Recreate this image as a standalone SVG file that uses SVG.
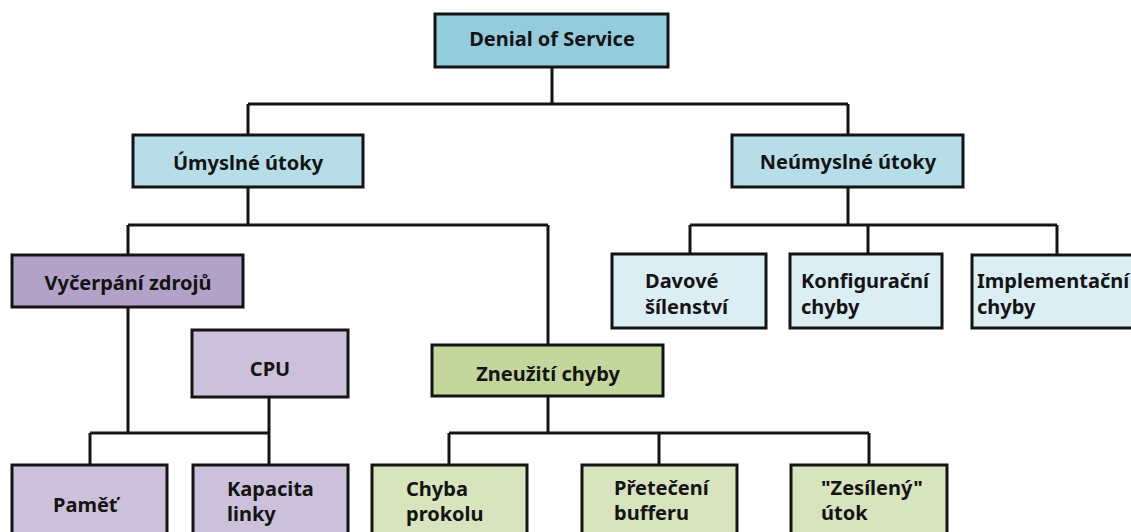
<svg xmlns="http://www.w3.org/2000/svg" width="1131" height="532" viewBox="0 0 1131 532">
  <style>
    .box { stroke: #141414; stroke-width: 3; }
    .root { fill: #93cddd; }
    .cat { fill: #b7dee8; }
    .leafb { fill: #dbeef4; }
    .purple { fill: #b3a2c7; }
    .lilac { fill: #ccc1da; }
    .green { fill: #c3d69b; }
    .lgreen { fill: #d7e4bd; }
    text { font-family: "Noto Sans", "DejaVu Sans", sans-serif; font-weight: bold; font-size: 20px; fill: #141414; }
    .c { text-anchor: middle; }
    #connectors path { fill: none; stroke: #141414; stroke-width: 3; }
  </style>
  <rect width="1131" height="532" fill="#ffffff"/>

  <!-- tree connectors -->
  <g id="connectors">
    <path d="M552 67 V104 M248 104 H848 M248 104 V135 M848 104 V135"/>
    <path d="M248 187 V225 M128 225 H548 M128 225 V255 M548 225 V345"/>
    <path d="M848 187 V225 M690 225 H1057 M690 225 V254 M868 225 V254 M1057 225 V255"/>
    <path d="M128 307 V433 M269 397 V433 M90 433 H269 M90 433 V465 M269 433 V465"/>
    <path d="M548 396 V433 M449 433 H869 M449 433 V465 M659 433 V465 M869 433 V465"/>
  </g>

  <g id="denial-of-service">
    <rect class="box root" x="435" y="14" width="233" height="53"/>
    <text class="c" x="552" y="46">Denial of Service</text>
  </g>

  <g id="umyslne-utoky">
    <rect class="box cat" x="133" y="135" width="230" height="52"/>
    <text class="c" x="248" y="170">Úmyslné útoky</text>
  </g>

  <g id="neumyslne-utoky">
    <rect class="box cat" x="732" y="135" width="231" height="52"/>
    <text class="c" x="848" y="169">Neúmyslné útoky</text>
  </g>

  <g id="davove-silenstvi">
    <rect class="box leafb" x="612" y="254" width="154" height="74"/>
    <text x="645" y="288">Davové</text>
    <text x="645" y="314">šílenství</text>
  </g>

  <g id="konfiguracni-chyby">
    <rect class="box leafb" x="790" y="254" width="152" height="74"/>
    <text x="801" y="288">Konfigurační</text>
    <text x="801" y="314">chyby</text>
  </g>

  <g id="implementacni-chyby">
    <rect class="box leafb" x="972" y="255" width="170" height="73"/>
    <text x="977" y="288">Implementační</text>
    <text x="977" y="314">chyby</text>
  </g>

  <g id="vycerpani-zdroju">
    <rect class="box purple" x="12" y="255" width="231" height="52"/>
    <text class="c" x="128" y="290">Vyčerpání zdrojů</text>
  </g>

  <g id="cpu">
    <rect class="box lilac" x="192" y="330" width="156" height="67"/>
    <text class="c" x="270" y="376">CPU</text>
  </g>

  <g id="zneuziti-chyby">
    <rect class="box green" x="432" y="345" width="231" height="51"/>
    <text class="c" x="548" y="381">Zneužití chyby</text>
  </g>

  <g id="pamet">
    <rect class="box lilac" x="12" y="465" width="155" height="95"/>
    <text x="53" y="512">Paměť</text>
  </g>

  <g id="kapacita-linky">
    <rect class="box lilac" x="193" y="465" width="155" height="95"/>
    <text x="227" y="496">Kapacita</text>
    <text x="227" y="521">linky</text>
  </g>

  <g id="chyba-protokolu">
    <rect class="box lgreen" x="372" y="465" width="155" height="95"/>
    <text x="406" y="496">Chyba</text>
    <text x="406" y="521">prokolu</text>
  </g>

  <g id="preteceni-bufferu">
    <rect class="box lgreen" x="582" y="465" width="155" height="95"/>
    <text x="614" y="495">Přetečení</text>
    <text x="614" y="520">bufferu</text>
  </g>

  <g id="zesileny-utok">
    <rect class="box lgreen" x="791" y="465" width="156" height="95"/>
    <text x="821" y="495">"Zesílený"</text>
    <text x="821" y="520">útok</text>
  </g>
</svg>
